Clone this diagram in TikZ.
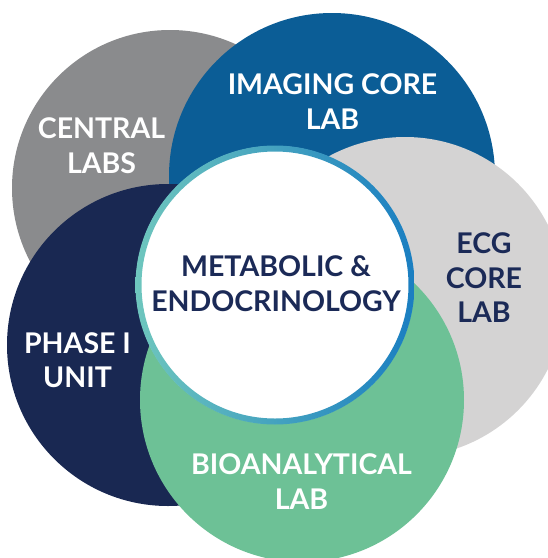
\documentclass[tikz,border=0pt]{standalone}
\usepackage{fontspec}
\setmainfont{Lato}
\definecolor{cgray}{HTML}{8A8B8D}
\definecolor{cblue}{HTML}{0B5D96}
\definecolor{clight}{HTML}{D4D3D3}
\definecolor{cnavy}{HTML}{192852}
\definecolor{cgreen}{HTML}{6DC196}
\definecolor{ctext}{HTML}{1B2A57}
\definecolor{cteal}{HTML}{6EC6BE}
\definecolor{cring}{HTML}{1A7EC1}
\begin{document}
\begin{tikzpicture}[x=1pt,y=-1pt,
  disc/.style={circle, inner sep=0pt, minimum size=#1},
  lbl/.style={align=center, inner sep=0pt, font=\fontsize{28.5}{34.5}\selectfont\bfseries}]
\useasboundingbox (0,0) rectangle (548,558);
\fill[white] (0,0) rectangle (548,558);
\clip (0,0) rectangle (548,558);
\node[disc=316pt, fill=cgray]  (cl)  at (170,188) {};
\node[disc=326pt, fill=cblue]  (img) at (332,176) {};
\node[disc=320pt, fill=clight] (ecg) at (405,297) {};
\node[disc=322pt, fill=cnavy]  (ph)  at (168,345) {};
\node[disc=324pt, fill=cgreen] (bio) at (302,400) {};
\node[disc=278pt, fill=white]  (core) at (275,285) {};
\shade[left color=cteal, right color=cring, even odd rule]
  (core.center) circle[radius=139.5pt] (core.center) circle[radius=133.5pt];
\node[lbl, text=white] (tcl)  at (101.5,145.5) {CENTRAL\\LABS};
\node[lbl, text=white] (timg) at (332.5,101.5) {IMAGING CORE\\LAB};
\node[lbl, text=ctext] (tecg) at (484,278) {ECG\\CORE\\LAB};
\node[lbl, text=white] (tph)  at (77.5,360) {PHASE I\\UNIT};
\node[lbl, text=white] (tbio) at (301.5,481.5) {BIOANALYTICAL\\LAB};
\node[lbl, text=ctext] (tcore) at (276,283.5) {METABOLIC \&\\ENDOCRINOLOGY};
\end{tikzpicture}
\end{document}
